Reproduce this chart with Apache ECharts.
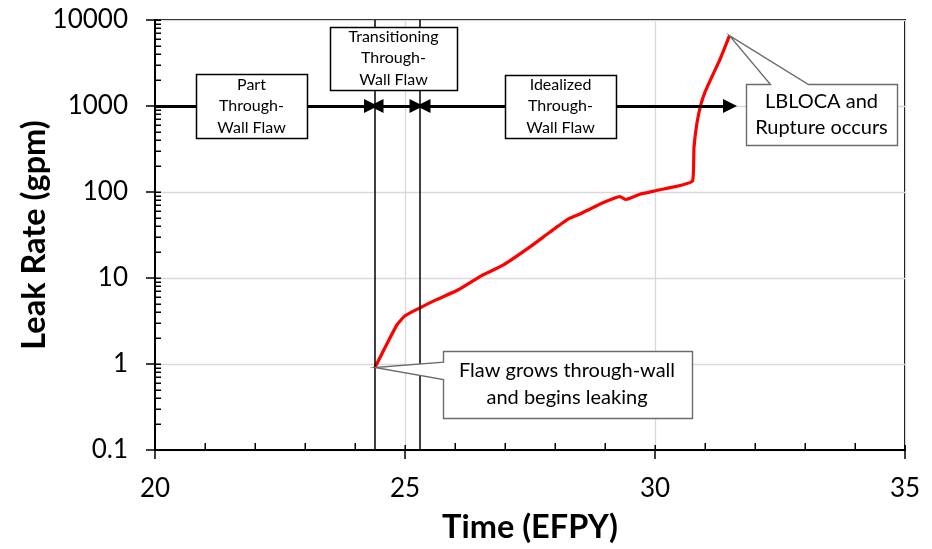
<!DOCTYPE html>
<html>
<head>
<meta charset="utf-8">
<title>Leak Rate vs Time</title>
<script src="https://cdn.jsdelivr.net/npm/echarts@6/dist/echarts.min.js"></script>
<style>
  html, body { margin: 0; padding: 0; background: #fff; }
  #chart { width: 932px; height: 549px; }
</style>
</head>
<body>
<div id="chart"></div>
<script>
// Leak rate history (EFPY, gpm)
const timeEfpy = [24.4, 24.83, 25.0, 25.3, 25.63, 26.07, 26.5, 26.97, 27.5, 27.9, 28.27, 28.5,
                  28.97, 29.3, 29.42, 29.7, 30.03, 30.75, 30.78, 30.84, 30.92, 31.0, 31.13, 31.3, 31.49];
const leakGpm  = [0.91, 2.79, 3.63, 4.5, 5.6, 7.3, 10.4, 14.2, 23, 34.2, 48.6, 55.5,
                  75.5, 88.5, 81.8, 94, 104, 134, 330, 640, 1050, 1450, 2140, 3480, 6570];

// Axis ranges and tick labels
const xTicks = [20, 25, 30, 35];
const yTicks = [0.1, 1, 10, 100, 1000, 10000];

// Phase boundaries (EFPY) and the level at which the phase arrows run (gpm)
const phaseBounds = [24.4, 25.3];
const arrowLevel = 1000;
// Arrow spans: [start, end, arrow at start, arrow at end]
const arrowSpans = [
  [20, 24.32, false, true],
  [24.43, 25.23, true, true],
  [25.37, 31.5, true, true]
];

// Phase label texts
const phaseLabels = [
  ['Part', 'Through-', 'Wall Flaw'],
  ['Transitioning', 'Through-', 'Wall Flaw'],
  ['Idealized', 'Through-', 'Wall Flaw']
];
const calloutLabels = [
  ['Flaw grows through-wall', 'and begins leaking'],
  ['LBLOCA and', 'Rupture occurs']
];

const leakData = timeEfpy.map((t, i) => [t, leakGpm[i]]);

// Tick values drawn on the inner side of the axes
const yInnerTicks = [];
for (let k = -1; k <= 4; k++) {
  for (let m = 1; m <= 9; m++) {
    const v = m * Math.pow(10, k);
    if (v >= 0.1 && v <= 10000) yInnerTicks.push(v);
  }
}
const xInnerTicks = [];
for (let t = 20; t <= 35; t++) xInnerTicks.push(t);

const chart = echarts.init(document.getElementById('chart'), null, { renderer: 'canvas' });

const FONT = 'Lato, "Open Sans", "DejaVu Sans", sans-serif';

const arrowLines = arrowSpans.map(([a, b, s0, s1]) => [
  { coord: [a, arrowLevel], symbol: s0 ? 'triangle' : 'none' },
  { coord: [b, arrowLevel], symbol: s1 ? 'triangle' : 'none' }
]);

chart.setOption({
  animation: false,
  backgroundColor: '#fff',
  grid: {
    left: 155, right: 27, top: 20, bottom: 93,
    show: true, borderColor: '#000', borderWidth: 2, backgroundColor: 'transparent'
  },
  xAxis: {
    type: 'value', min: 20, max: 35, interval: 5,
    name: 'Time (EFPY)', nameLocation: 'middle', nameGap: 61, nameMoveOverlap: false,
    nameTextStyle: { fontFamily: FONT, fontWeight: 'bold', fontSize: 32.5, color: '#000' },
    axisLine: { show: true, lineStyle: { color: '#000', width: 2 } },
    axisTick: { show: true, inside: false, length: 9, lineStyle: { color: '#000', width: 1.5 } },
    axisLabel: { fontFamily: FONT, fontSize: 26, color: '#000', margin: 26 },
    splitLine: { show: true, lineStyle: { color: '#d9d9d9', width: 1.3 } }
  },
  yAxis: {
    type: 'log', logBase: 10, min: 0.1, max: 10000,
    name: 'Leak Rate (gpm)', nameLocation: 'middle', nameGap: 104, nameRotate: 90, nameMoveOverlap: false,
    nameTextStyle: { fontFamily: FONT, fontWeight: 'bold', fontSize: 32.5, color: '#000' },
    axisLine: { show: true, lineStyle: { color: '#000', width: 2 } },
    axisTick: { show: true, inside: false, length: 9, lineStyle: { color: '#000', width: 1.5 } },
    axisLabel: {
      fontFamily: FONT, fontSize: 26, color: '#000', margin: 27,
      formatter: v => {
        const hit = yTicks.find(t => Math.abs(t - v) / t < 1e-6);
        return hit === undefined ? '' : String(hit);
      }
    },
    splitLine: { show: true, lineStyle: { color: '#d9d9d9', width: 1.3 } }
  },
  series: [
    {
      // phase boundaries
      type: 'line', data: [], z: 2, silent: true,
      markLine: {
        silent: true, animation: false,
        symbol: 'none',
        label: { show: false },
        emphasis: { disabled: true },
        lineStyle: { color: '#000', width: 1.5, type: 'solid' },
        data: phaseBounds.map(t => ({ xAxis: t }))
      }
    },
    {
      // phase arrows
      type: 'line', data: [], z: 2, silent: true,
      markLine: {
        silent: true, animation: false,
        symbolSize: 14,
        label: { show: false },
        emphasis: { disabled: true },
        lineStyle: { color: '#000', width: 3, type: 'solid' },
        itemStyle: { color: '#000' },
        data: arrowLines
      }
    },
    {
      name: 'Leak Rate', type: 'line', data: leakData, z: 4,
      showSymbol: false, symbol: 'none', smooth: 0.15,
      lineStyle: { color: '#ff0000', width: 3.2 },
      emphasis: { disabled: true }
    }
  ]
});

// Annotation layout: box centres given in data space, sizes in pixels
const phaseBoxLayout = [
  { t: 21.93, v: 1000, w: 111, h: 64 },
  { t: 24.77, v: 3590, w: 127, h: 63 },
  { t: 28.11, v: 1000, w: 111, h: 63 }
];
const calloutLayout = [
  // pointer attaches to the left edge, aimed at the first point of the curve
  { t: 28.24, v: 0.582, w: 249, h: 67, target: 0, side: 'left', a: 10.7, b: 28 },
  // pointer attaches to the top edge, aimed at the last point of the curve
  { t: 33.33, v: 792, w: 151, h: 61, target: leakData.length - 1, side: 'top', a: 24, b: 62 }
];

const px = (t, v) => chart.convertToPixel({ xAxisIndex: 0, yAxisIndex: 0 }, [t, v]);

const graphics = [];

// inner ticks: decades and 2..9 subdivisions on y, every year on x
yInnerTicks.forEach(v => {
  const p = px(20, v);
  const y = Math.round(p[1]) + 0.25;
  graphics.push({
    type: 'line', z: 50, silent: true,
    shape: { x1: p[0], y1: y, x2: p[0] + 6, y2: y },
    style: { stroke: '#000', lineWidth: 1.5 }
  });
});
xInnerTicks.forEach(t => {
  const p = px(t, 0.1);
  const x = Math.round(p[0]) + 0.25;
  const len = t % 5 === 0 ? 5 : 7;
  graphics.push({
    type: 'line', z: 50, silent: true,
    shape: { x1: x, y1: p[1], x2: x, y2: p[1] - len },
    style: { stroke: '#000', lineWidth: 1.5 }
  });
});

phaseBoxLayout.forEach((b, i) => {
  const c = px(b.t, b.v);
  graphics.push({
    type: 'rect', z: 100, silent: true,
    shape: { x: Math.round(c[0] - b.w / 2) + 0.5, y: Math.round(c[1] - b.h / 2) + 0.5, width: b.w, height: b.h },
    style: { fill: '#fff', stroke: '#000', lineWidth: 1.5 }
  });
  graphics.push({
    type: 'text', z: 101, silent: true, x: c[0], y: c[1],
    style: {
      text: phaseLabels[i].join('\n'), font: '16px ' + FONT, fill: '#000',
      lineHeight: 21.5, align: 'center', verticalAlign: 'middle'
    }
  });
});

calloutLayout.forEach((b, i) => {
  const c = px(b.t, b.v);
  const tp = px(leakData[b.target][0], leakData[b.target][1]);
  const x0 = Math.round(c[0] - b.w / 2) + 0.5, y0 = Math.round(c[1] - b.h / 2) + 0.5;
  const x1 = x0 + b.w, y1 = y0 + b.h;
  let pts;
  if (b.side === 'left') {
    pts = [[x0, y0], [x1, y0], [x1, y1], [x0, y1], [x0, y0 + b.b], tp, [x0, y0 + b.a]];
  } else {
    pts = [[x0, y0], [x0 + b.a, y0], tp, [x0 + b.b, y0], [x1, y0], [x1, y1], [x0, y1]];
  }
  graphics.push({
    type: 'polygon', z: 100, silent: true,
    shape: { points: pts },
    style: { fill: '#fff', stroke: '#6b6b6b', lineWidth: 1.4 }
  });
  graphics.push({
    type: 'text', z: 101, silent: true, x: c[0], y: c[1],
    style: {
      text: calloutLabels[i].join('\n'), font: '20px ' + FONT, fill: '#000',
      lineHeight: 26.5, align: 'center', verticalAlign: 'middle'
    }
  });
});

chart.setOption({ graphic: { elements: graphics } });
</script>
</body>
</html>
